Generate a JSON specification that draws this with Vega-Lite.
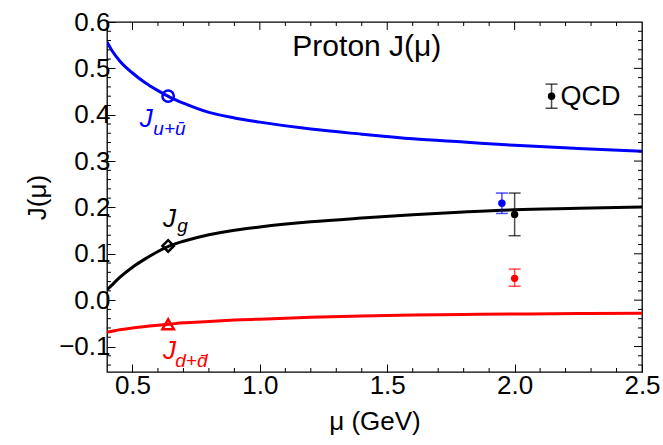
{
  "$schema": "https://vega.github.io/schema/vega-lite/v6.json",
  "width": 535,
  "height": 350,
  "autosize": "none",
  "padding": {"left": 107, "top": 22, "right": 21, "bottom": 73},
  "config": {
    "view": {"stroke": "black", "strokeWidth": 1.3},
    "font": "Liberation Sans",
    "axis": {"grid": false, "domain": false, "labelColor": "black", "titleColor": "black", "tickColor": "black", "tickWidth": 1, "labelFont": "Liberation Sans", "titleFont": "Liberation Sans", "titleFontWeight": "normal", "labelFlush": false, "labelOverlap": false}
  },
  "datasets": {
    "curves": [
      {"mu": 0.4, "J": 0.557, "s": "u"}, {"mu": 0.42, "J": 0.538, "s": "u"}, {"mu": 0.45, "J": 0.516, "s": "u"}, {"mu": 0.5, "J": 0.49, "s": "u"}, {"mu": 0.55, "J": 0.469, "s": "u"}, {"mu": 0.6, "J": 0.452, "s": "u"}, {"mu": 0.65, "J": 0.437, "s": "u"}, {"mu": 0.7, "J": 0.425, "s": "u"}, {"mu": 0.8, "J": 0.405, "s": "u"}, {"mu": 0.9, "J": 0.393, "s": "u"}, {"mu": 1.0, "J": 0.384, "s": "u"}, {"mu": 1.2, "J": 0.369, "s": "u"}, {"mu": 1.4, "J": 0.358, "s": "u"}, {"mu": 1.6, "J": 0.348, "s": "u"}, {"mu": 1.8, "J": 0.341, "s": "u"}, {"mu": 2.0, "J": 0.334, "s": "u"}, {"mu": 2.25, "J": 0.327, "s": "u"}, {"mu": 2.5, "J": 0.321, "s": "u"},
      {"mu": 0.4, "J": 0.022, "s": "g"}, {"mu": 0.42, "J": 0.033, "s": "g"}, {"mu": 0.45, "J": 0.049, "s": "g"}, {"mu": 0.5, "J": 0.071, "s": "g"}, {"mu": 0.55, "J": 0.089, "s": "g"}, {"mu": 0.6, "J": 0.105, "s": "g"}, {"mu": 0.65, "J": 0.118, "s": "g"}, {"mu": 0.7, "J": 0.127, "s": "g"}, {"mu": 0.8, "J": 0.141, "s": "g"}, {"mu": 0.9, "J": 0.151, "s": "g"}, {"mu": 1.0, "J": 0.158, "s": "g"}, {"mu": 1.2, "J": 0.169, "s": "g"}, {"mu": 1.4, "J": 0.177, "s": "g"}, {"mu": 1.6, "J": 0.184, "s": "g"}, {"mu": 1.8, "J": 0.19, "s": "g"}, {"mu": 2.0, "J": 0.195, "s": "g"}, {"mu": 2.25, "J": 0.198, "s": "g"}, {"mu": 2.5, "J": 0.201, "s": "g"},
      {"mu": 0.4, "J": -0.069, "s": "d"}, {"mu": 0.42, "J": -0.067, "s": "d"}, {"mu": 0.45, "J": -0.064, "s": "d"}, {"mu": 0.5, "J": -0.06, "s": "d"}, {"mu": 0.55, "J": -0.057, "s": "d"}, {"mu": 0.6, "J": -0.054, "s": "d"}, {"mu": 0.65, "J": -0.0515, "s": "d"}, {"mu": 0.7, "J": -0.049, "s": "d"}, {"mu": 0.8, "J": -0.046, "s": "d"}, {"mu": 0.9, "J": -0.043, "s": "d"}, {"mu": 1.0, "J": -0.041, "s": "d"}, {"mu": 1.2, "J": -0.037, "s": "d"}, {"mu": 1.4, "J": -0.034, "s": "d"}, {"mu": 1.6, "J": -0.032, "s": "d"}, {"mu": 1.8, "J": -0.031, "s": "d"}, {"mu": 2.0, "J": -0.03, "s": "d"}, {"mu": 2.25, "J": -0.029, "s": "d"}, {"mu": 2.5, "J": -0.028, "s": "d"}
    ],
    "markers": [
      {"mu": 0.64, "J": 0.44, "s": "u", "shape": "circle"},
      {"mu": 0.64, "J": 0.117, "s": "g", "shape": "diamond"},
      {"mu": 0.64, "J": -0.052, "s": "d", "shape": "triangle-up"}
    ],
    "lattice": [
      {"mu": 1.95, "J": 0.209, "lo": 0.187, "hi": 0.231, "s": "u"},
      {"mu": 2.0, "J": 0.185, "lo": 0.139, "hi": 0.231, "s": "g"},
      {"mu": 2.0, "J": 0.047, "lo": 0.03, "hi": 0.067, "s": "d"},
      {"mu": 2.145, "J": 0.44, "lo": 0.414, "hi": 0.466, "s": "g"}
    ],
    "bigLabels": [
      {"mu": 0.529, "J": 0.373, "text": "J", "s": "u"},
      {"mu": 0.62, "J": 0.157, "text": "J", "s": "g"},
      {"mu": 0.62, "J": -0.127, "text": "J", "s": "d"}
    ],
    "subLabels": [
      {"mu": 0.582, "J": 0.357, "text": "u+ū", "s": "u"},
      {"mu": 0.676, "J": 0.146, "text": "g", "s": "g"},
      {"mu": 0.668, "J": -0.144, "text": "d+d̄", "s": "d"}
    ],
    "heading": [
      {"mu": 1.42, "J": 0.545, "text": "Proton J(μ)"}
    ],
    "legendText": [
      {"mu": 2.18, "J": 0.4375, "text": "QCD"}
    ],
    "xMajor": [{"v": 0.5}, {"v": 1.0}, {"v": 1.5}, {"v": 2.0}],
    "xMinor": [{"v": 0.6}, {"v": 0.7}, {"v": 0.8}, {"v": 0.9}, {"v": 1.1}, {"v": 1.2}, {"v": 1.3}, {"v": 1.4}, {"v": 1.6}, {"v": 1.7}, {"v": 1.8}, {"v": 1.9}, {"v": 2.1}, {"v": 2.2}, {"v": 2.3}, {"v": 2.4}],
    "yMajor": [{"v": -0.1}, {"v": 0}, {"v": 0.1}, {"v": 0.2}, {"v": 0.3}, {"v": 0.4}, {"v": 0.5}],
    "yMinor": [{"v": -0.14}, {"v": -0.12}, {"v": -0.08}, {"v": -0.06}, {"v": -0.04}, {"v": -0.02}, {"v": 0.02}, {"v": 0.04}, {"v": 0.06}, {"v": 0.08}, {"v": 0.12}, {"v": 0.14}, {"v": 0.16}, {"v": 0.18}, {"v": 0.22}, {"v": 0.24}, {"v": 0.26}, {"v": 0.28}, {"v": 0.32}, {"v": 0.34}, {"v": 0.36}, {"v": 0.38}, {"v": 0.42}, {"v": 0.44}, {"v": 0.46}, {"v": 0.48}, {"v": 0.52}, {"v": 0.54}, {"v": 0.56}, {"v": 0.58}]
  },
  "layer": [
    {
      "data": {"name": "curves"},
      "mark": {"type": "line", "strokeWidth": 3, "clip": true, "interpolate": "monotone"},
      "encoding": {
        "x": {"field": "mu", "type": "quantitative", "scale": {"domain": [0.4, 2.5], "nice": false, "zero": false},
          "axis": {"orient": "bottom", "values": [0.5, 1.0, 1.5, 2.0, 2.5], "format": ".1f", "ticks": true, "tickSize": -8, "labelFontSize": 26, "labelPadding": 8, "title": "μ  (GeV)", "titleFontSize": 26, "titlePadding": 10}},
        "y": {"field": "J", "type": "quantitative", "scale": {"domain": [-0.155, 0.6], "nice": false, "zero": false},
          "axis": {"orient": "left", "values": [-0.1, 0, 0.1, 0.2, 0.3, 0.4, 0.5, 0.6], "format": ".1f", "ticks": true, "tickSize": -8, "labelFontSize": 26, "labelPadding": 5, "title": "J(μ)", "titleFontSize": 26, "titlePadding": 8}},
        "color": {"field": "s", "type": "nominal", "scale": {"domain": ["u", "g", "d"], "range": ["#0000ff", "#000000", "#ff0000"]}, "legend": null},
        "detail": {"field": "s"}
      }
    },
    {
      "data": {"name": "xMajor"},
      "mark": {"type": "rule", "color": "black", "strokeWidth": 1},
      "encoding": {
        "x": {"field": "v", "type": "quantitative"},
        "y": {"datum": 0.6, "type": "quantitative"},
        "y2": {"datum": 0.5828}
      }
    },
    {
      "data": {"name": "xMinor"},
      "mark": {"type": "rule", "color": "black", "strokeWidth": 1},
      "encoding": {
        "x": {"field": "v", "type": "quantitative"},
        "y": {"datum": 0.6, "type": "quantitative"},
        "y2": {"datum": 0.5914}
      }
    },
    {
      "data": {"name": "xMinor"},
      "mark": {"type": "rule", "color": "black", "strokeWidth": 1},
      "encoding": {
        "x": {"field": "v", "type": "quantitative"},
        "y": {"datum": -0.155, "type": "quantitative"},
        "y2": {"datum": -0.1464}
      }
    },
    {
      "data": {"name": "yMajor"},
      "mark": {"type": "rule", "color": "black", "strokeWidth": 1},
      "encoding": {
        "y": {"field": "v", "type": "quantitative"},
        "x": {"datum": 2.5, "type": "quantitative"},
        "x2": {"datum": 2.4686}
      }
    },
    {
      "data": {"name": "yMinor"},
      "mark": {"type": "rule", "color": "black", "strokeWidth": 1},
      "encoding": {
        "y": {"field": "v", "type": "quantitative"},
        "x": {"datum": 2.5, "type": "quantitative"},
        "x2": {"datum": 2.4843}
      }
    },
    {
      "data": {"name": "yMinor"},
      "mark": {"type": "rule", "color": "black", "strokeWidth": 1},
      "encoding": {
        "y": {"field": "v", "type": "quantitative"},
        "x": {"datum": 0.4, "type": "quantitative"},
        "x2": {"datum": 0.4157}
      }
    },
    {
      "data": {"name": "markers"},
      "mark": {"type": "point", "filled": false, "strokeWidth": 2.5, "size": 130, "opacity": 1},
      "encoding": {
        "x": {"field": "mu", "type": "quantitative"},
        "y": {"field": "J", "type": "quantitative"},
        "shape": {"field": "shape", "type": "nominal", "scale": {"domain": ["circle", "diamond", "triangle-up"], "range": ["circle", "diamond", "triangle-up"]}, "legend": null},
        "color": {"field": "s", "type": "nominal", "scale": {"domain": ["u", "g", "d"], "range": ["#0000ff", "#000000", "#ff0000"]}, "legend": null}
      }
    },
    {
      "data": {"name": "lattice"},
      "mark": {"type": "rule", "strokeWidth": 1.5, "opacity": 0.7},
      "encoding": {
        "x": {"field": "mu", "type": "quantitative"},
        "y": {"field": "lo", "type": "quantitative"},
        "y2": {"field": "hi"},
        "color": {"field": "s", "type": "nominal", "scale": {"domain": ["u", "g", "d"], "range": ["#0000ff", "#000000", "#ff0000"]}, "legend": null}
      }
    },
    {
      "data": {"name": "lattice"},
      "mark": {"type": "tick", "orient": "horizontal", "size": 12, "thickness": 1.5, "opacity": 0.7},
      "encoding": {
        "x": {"field": "mu", "type": "quantitative"},
        "y": {"field": "lo", "type": "quantitative"},
        "color": {"field": "s", "type": "nominal", "scale": {"domain": ["u", "g", "d"], "range": ["#0000ff", "#000000", "#ff0000"]}, "legend": null}
      }
    },
    {
      "data": {"name": "lattice"},
      "mark": {"type": "tick", "orient": "horizontal", "size": 12, "thickness": 1.5, "opacity": 0.7},
      "encoding": {
        "x": {"field": "mu", "type": "quantitative"},
        "y": {"field": "hi", "type": "quantitative"},
        "color": {"field": "s", "type": "nominal", "scale": {"domain": ["u", "g", "d"], "range": ["#0000ff", "#000000", "#ff0000"]}, "legend": null}
      }
    },
    {
      "data": {"name": "lattice"},
      "mark": {"type": "circle", "size": 55, "opacity": 1},
      "encoding": {
        "x": {"field": "mu", "type": "quantitative"},
        "y": {"field": "J", "type": "quantitative"},
        "color": {"field": "s", "type": "nominal", "scale": {"domain": ["u", "g", "d"], "range": ["#0000ff", "#000000", "#ff0000"]}, "legend": null}
      }
    },
    {
      "mark": {"type": "rule", "strokeWidth": 1, "color": "black"},
      "encoding": {"y": {"datum": 0, "type": "quantitative"}}
    },
    {
      "data": {"name": "bigLabels"},
      "mark": {"type": "text", "align": "left", "baseline": "alphabetic", "fontSize": 26, "fontStyle": "italic"},
      "encoding": {
        "x": {"field": "mu", "type": "quantitative"},
        "y": {"field": "J", "type": "quantitative"},
        "text": {"field": "text"},
        "color": {"field": "s", "type": "nominal", "scale": {"domain": ["u", "g", "d"], "range": ["#0000ff", "#000000", "#ff0000"]}, "legend": null}
      }
    },
    {
      "data": {"name": "subLabels"},
      "mark": {"type": "text", "align": "left", "baseline": "alphabetic", "fontSize": 19, "fontStyle": "italic"},
      "encoding": {
        "x": {"field": "mu", "type": "quantitative"},
        "y": {"field": "J", "type": "quantitative"},
        "text": {"field": "text"},
        "color": {"field": "s", "type": "nominal", "scale": {"domain": ["u", "g", "d"], "range": ["#0000ff", "#000000", "#ff0000"]}, "legend": null}
      }
    },
    {
      "data": {"name": "heading"},
      "mark": {"type": "text", "align": "center", "baseline": "middle", "fontSize": 30, "color": "black"},
      "encoding": {
        "x": {"field": "mu", "type": "quantitative"},
        "y": {"field": "J", "type": "quantitative"},
        "text": {"field": "text"}
      }
    },
    {
      "data": {"name": "legendText"},
      "mark": {"type": "text", "align": "left", "baseline": "middle", "fontSize": 27, "color": "black"},
      "encoding": {
        "x": {"field": "mu", "type": "quantitative"},
        "y": {"field": "J", "type": "quantitative"},
        "text": {"field": "text"}
      }
    }
  ]
}
